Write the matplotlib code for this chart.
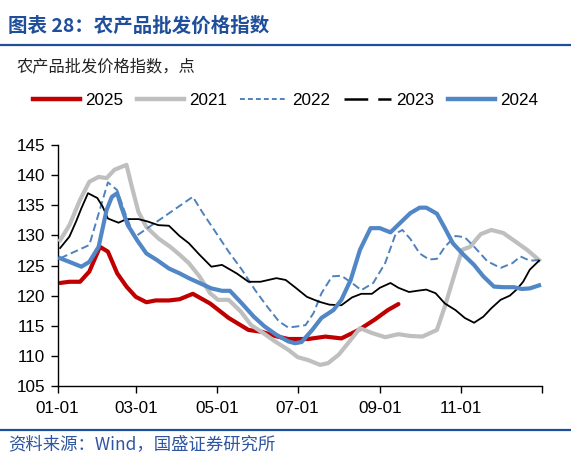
import matplotlib
matplotlib.use('Agg')
import matplotlib.pyplot as plt
from matplotlib.lines import Line2D

plt.rcParams['font.family'] = ['Liberation Sans', 'DejaVu Sans']
cjk = ['Noto Sans CJK SC', 'DejaVu Sans']

# day of year for each weekly reading, and the index value
d2025 = [2, 9, 17, 24, 32, 38, 45, 52, 59, 67, 74, 84, 92, 102, 115, 129, 144, 154,
         164, 174, 182, 189, 202, 214, 227, 239, 249, 257]
v2025 = [122.1, 122.3, 122.3, 124.0, 128.1, 127.3, 123.7, 121.5, 119.8, 118.9, 119.2,
         119.2, 119.4, 120.3, 118.7, 116.3, 114.3, 114.0, 113.3, 112.8, 112.8, 112.8,
         113.2, 112.9, 114.3, 116.0, 117.6, 118.6]

d2021 = [2, 9, 17, 24, 31, 37, 43, 52, 56, 61, 67, 76, 85, 92, 99, 107, 115, 121, 129,
         138, 146, 155, 164, 174, 181, 189, 198, 204, 212, 219, 228, 237, 247, 257, 266,
         275, 286, 292, 298, 305, 311, 319, 327, 336, 345, 354, 363]
v2021 = [129.2, 131.7, 135.9, 138.9, 139.7, 139.5, 140.9, 141.7, 138.1, 133.9, 131.4,
         129.5, 128.1, 126.8, 125.4, 123.2, 120.4, 119.3, 119.3, 117.4, 115.1, 113.8,
         112.4, 111.0, 109.8, 109.3, 108.5, 108.8, 110.2, 112.1, 114.6, 113.8, 113.1,
         113.6, 113.3, 113.2, 114.3, 118.2, 122.6, 127.6, 128.1, 130.2, 130.9, 130.4,
         129.0, 127.6, 125.9]

d2022 = [2, 13, 24, 38, 45, 51, 58, 102, 109, 119, 129, 139, 149, 158, 167, 174, 181,
         187, 193, 199, 207, 214, 222, 229, 238, 247, 255, 260, 266, 273, 280, 286, 292,
         300, 307, 315, 324, 334, 343, 349, 356, 363]
v2022 = [126.2, 127.3, 128.4, 138.8, 137.5, 133.7, 129.7, 136.4, 133.9, 130.6, 127.3,
         124.3, 120.9, 118.2, 115.7, 114.7, 114.9, 115.1, 117.1, 120.4, 123.2, 123.3,
         122.1, 120.9, 122.1, 125.4, 130.3, 130.9, 129.4, 127.0, 126.0, 126.1, 128.1,
         129.9, 129.7, 127.9, 125.7, 124.6, 125.4, 126.5, 125.8, 125.9]

d2023 = [2, 9, 14, 18, 23, 30, 34, 38, 46, 52, 61, 68, 76, 84, 92, 99, 107, 116, 124,
         135, 144, 153, 165, 172, 179, 188, 197, 205, 214, 222, 229, 237, 243, 251, 257,
         265, 271, 278, 285, 292, 300, 307, 314, 321, 327, 334, 341, 346, 351, 356, 363]
v2023 = [127.9, 129.8, 132.3, 134.5, 137.0, 136.2, 134.8, 132.8, 132.1, 132.7, 132.7,
         132.3, 131.7, 131.6, 129.9, 128.7, 126.8, 124.8, 125.1, 123.7, 122.3, 122.3,
         122.9, 122.6, 121.4, 119.8, 119.0, 118.5, 118.4, 119.7, 120.3, 120.3, 121.3,
         122.1, 121.3, 120.6, 120.8, 121.0, 120.4, 118.7, 117.6, 116.3, 115.5, 116.5,
         117.9, 119.3, 120.0, 121.0, 122.3, 124.3, 125.8]

d2024 = [2, 9, 18, 24, 31, 37, 41, 45, 48, 53, 60, 67, 75, 84, 92, 99, 107, 116, 124,
         130, 139, 148, 156, 165, 174, 179, 184, 192, 199, 208, 214, 221, 228, 236, 243,
         251, 258, 266, 273, 278, 286, 292, 298, 306, 314, 321, 329, 336, 344, 350, 356, 363]
v2024 = [126.2, 125.6, 124.8, 125.6, 128.1, 134.2, 136.4, 137.0, 134.8, 131.7, 129.2,
         127.0, 125.9, 124.5, 123.7, 122.9, 122.1, 121.2, 120.8, 120.8, 118.7, 116.5,
         114.9, 113.5, 112.4, 112.1, 112.3, 114.3, 116.3, 117.6, 119.3, 122.6, 127.6,
         131.2, 131.2, 130.5, 132.0, 133.7, 134.6, 134.6, 133.6, 131.2, 128.7, 126.8,
         125.1, 123.2, 121.5, 121.4, 121.4, 121.1, 121.2, 121.7]

tick_days = [0, 59, 120, 181, 243, 304, 365]
tick_labels = ['01-01', '03-01', '05-01', '07-01', '09-01', '11-01', '']

c2025, c2021, c2022, c2023, c2024 = '#C00000', '#BFBFBF', '#4F81BD', '#000000', '#5187C6'
navy = '#1F4E9A'

fig = plt.figure(figsize=(5.71, 4.68), dpi=100)
ax = fig.add_axes([57.5 / 571, 82 / 468, 484.2 / 571, 241 / 468])

ax.plot(d2025, v2025, color=c2025, lw=3.0, zorder=2, solid_capstyle='round')
ax.plot(d2021, v2021, color=c2021, lw=3.0, zorder=3)
ax.plot(d2022, v2022, color=c2022, lw=1.4, ls=(0, (4, 2)), zorder=4)
ax.plot(d2023, v2023, color=c2023, lw=1.3, zorder=5)
ax.plot(d2024, v2024, color=c2024, lw=3.0, zorder=6)

ax.set_xlim(0, 365)
ax.set_ylim(105, 145)
ax.set_yticks(range(105, 146, 5))
ax.set_xticks(tick_days)
ax.set_xticklabels(tick_labels)
for s in ['top', 'right']:
    ax.spines[s].set_visible(False)
for s in ['left', 'bottom']:
    ax.spines[s].set_linewidth(1.0)
ax.tick_params(direction='out', length=5, width=1.0, labelsize=12.3, pad=4)
ax.tick_params(axis='x', pad=6)

handles = [
    Line2D([], [], color=c2025, lw=3.2),
    Line2D([], [], color=c2021, lw=3.2),
    Line2D([], [], color=c2022, lw=1.4, ls=(0, (2.5, 1.6))),
    Line2D([], [], color=c2023, lw=1.8, ls=(0, (9.5, 4))),
    Line2D([], [], color=c2024, lw=3.2),
]
fig.legend(handles, ['2025', '2021', '2022', '2023', '2024'], loc='center',
           bbox_to_anchor=(0.5, 1 - 100.5 / 468), ncol=5, frameon=False,
           fontsize=12.3, handlelength=2.75, handletextpad=0.3, columnspacing=0.8,
           borderpad=0, borderaxespad=0)

fig.text(8 / 571, 1 - 26 / 468, '图表 28：农产品批发价格指数', family=cjk,
         fontsize=14, weight='bold', color=navy, va='center', ha='left')
fig.add_artist(Line2D([0, 1], [1 - 44.5 / 468] * 2, transform=fig.transFigure,
                      color=navy, lw=1.6))
fig.text(16 / 571, 1 - 67 / 468, '农产品批发价格指数，点', family=cjk,
         fontsize=11.7, color='#222222', va='center', ha='left')

fig.add_artist(Line2D([0, 1], [1 - 430 / 468] * 2, transform=fig.transFigure,
                      color=navy, lw=1.6))
fig.text(8 / 571, 1 - 444 / 468, '资料来源：Wind，国盛证券研究所', family=cjk,
         fontsize=12.5, color='#2F55A0', va='center', ha='left')

fig.savefig('out.png', dpi=100)
